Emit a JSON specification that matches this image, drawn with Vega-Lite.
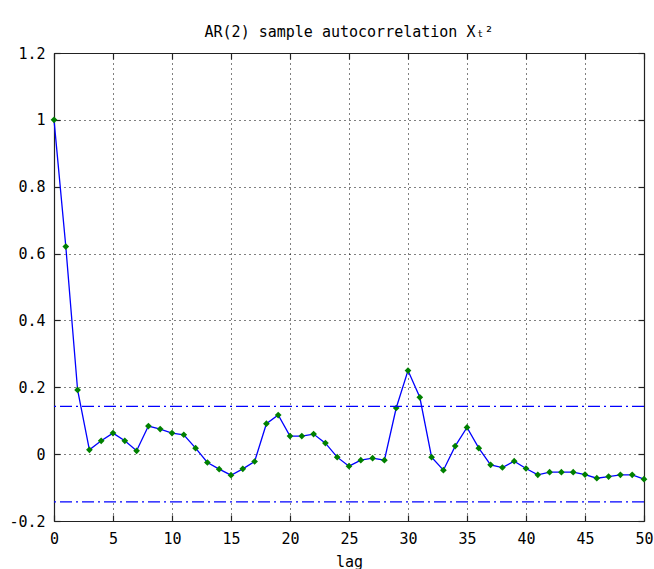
{
  "$schema": "https://vega.github.io/schema/vega-lite/v6.json",
  "autosize": {"type": "none"},
  "width": 590,
  "height": 468,
  "padding": {"left": 54, "top": 53, "right": 10, "bottom": 48},
  "background": "white",
  "config": {
    "view": {"stroke": null},
    "axis": {
      "labelFont": "DejaVu Sans Mono",
      "labelFontSize": 15,
      "labelColor": "black",
      "titleFont": "DejaVu Sans Mono",
      "titleFontSize": 15,
      "titleFontWeight": "normal",
      "titleColor": "black",
      "domainColor": "#222222",
      "domainWidth": 1.2,
      "tickColor": "#222222",
      "tickWidth": 1.2,
      "tickSize": -6,
      "gridColor": "black",
      "gridOpacity": 1,
      "gridDash": [1, 4],
      "gridWidth": 1
    }
  },
  "title": {
    "text": "AR(2) sample autocorrelation Xₜ²",
    "font": "DejaVu Sans Mono",
    "fontSize": 15,
    "fontWeight": "normal",
    "color": "black",
    "anchor": "middle",
    "frame": "group",
    "baseline": "alphabetic",
    "offset": -6
  },
  "datasets": {
    "acf": [
      {"lag": 0, "acf": 1.000}, {"lag": 1, "acf": 0.621}, {"lag": 2, "acf": 0.192},
      {"lag": 3, "acf": 0.013}, {"lag": 4, "acf": 0.040}, {"lag": 5, "acf": 0.063},
      {"lag": 6, "acf": 0.040}, {"lag": 7, "acf": 0.010}, {"lag": 8, "acf": 0.084},
      {"lag": 9, "acf": 0.075}, {"lag": 10, "acf": 0.063}, {"lag": 11, "acf": 0.058},
      {"lag": 12, "acf": 0.018}, {"lag": 13, "acf": -0.025}, {"lag": 14, "acf": -0.045},
      {"lag": 15, "acf": -0.063}, {"lag": 16, "acf": -0.044}, {"lag": 17, "acf": -0.022},
      {"lag": 18, "acf": 0.091}, {"lag": 19, "acf": 0.117}, {"lag": 20, "acf": 0.054},
      {"lag": 21, "acf": 0.054}, {"lag": 22, "acf": 0.060}, {"lag": 23, "acf": 0.033},
      {"lag": 24, "acf": -0.009}, {"lag": 25, "acf": -0.036}, {"lag": 26, "acf": -0.018},
      {"lag": 27, "acf": -0.012}, {"lag": 28, "acf": -0.018}, {"lag": 29, "acf": 0.138},
      {"lag": 30, "acf": 0.250}, {"lag": 31, "acf": 0.170}, {"lag": 32, "acf": -0.009},
      {"lag": 33, "acf": -0.048}, {"lag": 34, "acf": 0.024}, {"lag": 35, "acf": 0.080},
      {"lag": 36, "acf": 0.018}, {"lag": 37, "acf": -0.032}, {"lag": 38, "acf": -0.040},
      {"lag": 39, "acf": -0.021}, {"lag": 40, "acf": -0.043}, {"lag": 41, "acf": -0.062},
      {"lag": 42, "acf": -0.054}, {"lag": 43, "acf": -0.054}, {"lag": 44, "acf": -0.054},
      {"lag": 45, "acf": -0.061}, {"lag": 46, "acf": -0.072}, {"lag": 47, "acf": -0.067},
      {"lag": 48, "acf": -0.062}, {"lag": 49, "acf": -0.062}, {"lag": 50, "acf": -0.075}
    ],
    "bounds": [
      {"bound": 0.143},
      {"bound": -0.143}
    ]
  },
  "resolve": {"axis": {"x": "independent", "y": "independent"}},
  "layer": [
    {
      "data": {"name": "acf"},
      "mark": {"type": "line", "color": "#0000ff", "strokeWidth": 1.3},
      "encoding": {
        "x": {
          "field": "lag", "type": "quantitative",
          "scale": {"domain": [0, 50], "nice": false, "zero": false},
          "axis": {
            "orient": "bottom", "title": "lag", "titlePadding": 8,
            "values": [0, 5, 10, 15, 20, 25, 30, 35, 40, 45, 50],
            "grid": true, "labelPadding": 16, "labelFlush": false
          }
        },
        "y": {
          "field": "acf", "type": "quantitative",
          "scale": {"domain": [-0.2, 1.2], "nice": false, "zero": false},
          "axis": {
            "orient": "left", "title": null,
            "values": [-0.2, 0, 0.2, 0.4, 0.6, 0.8, 1, 1.2],
            "format": "~g",
            "labelExpr": "replace(datum.label, '−', '-')",
            "grid": true, "labelPadding": 15, "labelFlush": false
          }
        }
      }
    },
    {
      "data": {"name": "acf"},
      "mark": {"type": "point", "shape": "diamond", "filled": true, "color": "#008000", "size": 45, "opacity": 1},
      "encoding": {
        "x": {
          "field": "lag", "type": "quantitative",
          "axis": {
            "orient": "top", "title": null, "labels": false, "grid": false,
            "values": [0, 5, 10, 15, 20, 25, 30, 35, 40, 45, 50]
          }
        },
        "y": {
          "field": "acf", "type": "quantitative",
          "axis": {
            "orient": "right", "title": null, "labels": false, "grid": false,
            "values": [-0.2, 0, 0.2, 0.4, 0.6, 0.8, 1, 1.2]
          }
        }
      }
    },
    {
      "data": {"name": "bounds"},
      "mark": {"type": "rule", "color": "#0000ff", "strokeWidth": 1.3, "strokeDash": [12, 4, 2, 4]},
      "encoding": {
        "y": {"field": "bound", "type": "quantitative", "axis": null}
      }
    }
  ]
}
